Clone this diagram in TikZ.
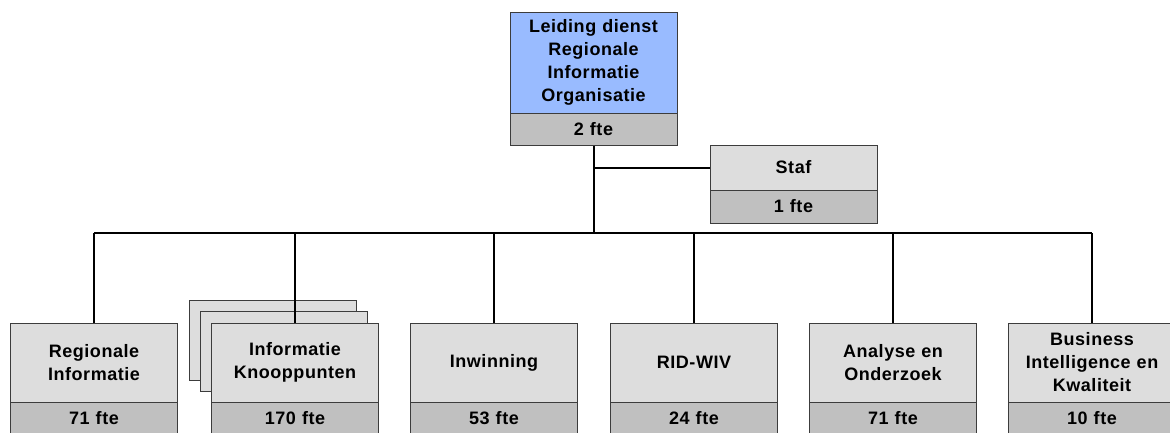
\documentclass[tikz,border=0pt]{standalone}
\usepackage{fontspec}
\setmainfont{Liberation Sans}[LetterSpace=3]
\usetikzlibrary{positioning}
\definecolor{leadblue}{RGB}{153,187,255}
\definecolor{unitgray}{RGB}{221,221,221}
\definecolor{ftegray}{RGB}{192,192,192}
\definecolor{edgegray}{RGB}{60,60,60}

\begin{document}
\begin{tikzpicture}[x=1pt, y=-1pt]
		\tikzstyle{Unit} = [rectangle, minimum width=167pt, minimum height=79pt, text width=163pt, inner sep=0pt, align=center, draw=edgegray, line width=1pt, fill=unitgray, font=\bfseries\fontsize{18}{23}\selectfont]
		\tikzstyle{Fte} = [Unit, minimum height=32pt, fill=ftegray]
		\tikzstyle{Shadow} = [Unit, minimum height=80pt]
		\tikzstyle{link} = [line width=2pt, black]
		
		\useasboundingbox (0,0) rectangle (1170,432);
		\clip (0,0) rectangle (1170,432);
		
		% leiding en staf
		\node (lead) [Unit, minimum height=101pt, fill=leadblue] at (593.5,62.5) {Leiding dienst\\Regionale\\Informatie\\Organisatie};
		\node (lead-fte) [Fte] at (593.5,129) {2 fte};
		\node (staf) [Unit, minimum height=45pt] at (793.5,167.5) {Staf};
		\node (staf-fte) [Fte, minimum height=33pt] at (793.5,206.5) {1 fte};
		
		\coordinate (staf-tap) at (593.5,167.5);
		\coordinate (bus) at (593.5,233);
		
		% stapel achter Informatie Knooppunten
		\node (kp-back) [Shadow] at (272.5,340) {};
		\node (kp-mid) [Shadow] at (283.5,351.5) {};
		
		% afdelingen
		\node (ri) [Unit] at (94,362.5) {Regionale\\Informatie};
		\node (ri-fte) [Fte] at (94,418) {71 fte};
		\node (ik) [Unit] at (295,362.5) {Informatie\\Knooppunten};
		\node (ik-fte) [Fte] at (295,418) {170 fte};
		\node (inw) [Unit] at (494,362.5) {Inwinning};
		\node (inw-fte) [Fte] at (494,418) {53 fte};
		\node (rid) [Unit] at (694,362.5) {RID-WIV};
		\node (rid-fte) [Fte] at (694,418) {24 fte};
		\node (ao) [Unit] at (893,362.5) {Analyse en\\Onderzoek};
		\node (ao-fte) [Fte] at (893,418) {71 fte};
		\node (bik) [Unit] at (1092,362.5) {Business\\Intelligence en\\Kwaliteit};
		\node (bik-fte) [Fte] at (1092,418) {10 fte};
		
		% lijnen
		\draw [link] (lead-fte.south) -- (bus);
		\draw [link] (staf-tap) -- (staf.west);
		\draw [link] (bus -| ri.north) -- (bus -| bik.north);
		\foreach \u in {ri, ik, inw, rid, ao, bik}
			\draw [link] (bus -| \u.north) -- (\u.north);
		\end{tikzpicture}
\end{document}
